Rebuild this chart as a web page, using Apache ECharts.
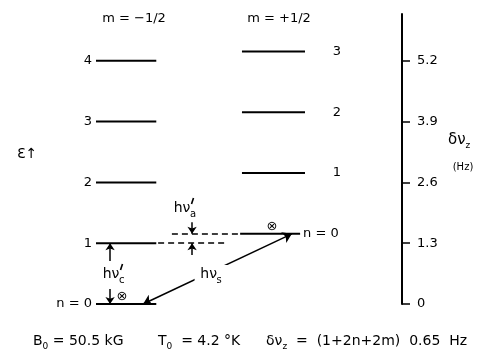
<!DOCTYPE html>
<html><head><meta charset="utf-8">
<script src="https://cdn.jsdelivr.net/npm/echarts@6/dist/echarts.min.js"></script>
<style>html,body{margin:0;padding:0;background:#fff}#c{width:481px;height:355px}</style>
</head><body><div id="c"></div>
<script>
// ---- data ----
const tickValues = [0, 1.3, 2.6, 3.9, 5.2];
const tickLabels = ['0', '1.3', '2.6', '3.9', '5.2'];
const levelsMinus = [0, 1.3, 2.6, 3.9, 5.2];      // m = -1/2, n = 0..4  (δν_z, Hz)
const levelsPlus = [1.5, 2.8, 4.1, 5.4];          // m = +1/2, n = 0..3  (raised by hν'_a)
const labelsMinus = ['n = 0', '1', '2', '3', '4'];
const labelsPlus = ['n = 0', '1', '2', '3'];
const columnHeaders = ['m = \u22121/2', 'm = +1/2'];
const captions = ['B', 'T', '\u03b4\u03bd'];

// ---- layout (abstract horizontal units) ----
const FONT = '"DejaVu Sans", "Liberation Sans", sans-serif';
const COL_L = [0, 1.97];
const COL_R = [4.77, 6.83];
const COL_R0 = [4.71, 6.67];

const chart = echarts.init(document.getElementById('c'), null, {renderer: 'canvas'});

function levelRenderer(side, labels) {
  return function (params, api) {
    const y = api.value(2);
    const p0 = api.coord([api.value(0), y]);
    const p1 = api.coord([api.value(1), y]);
    const i = params.dataIndex;
    let tx, align;
    if (side === 'L') { tx = p0[0] - 4; align = 'right'; }
    else if (i === 0) { tx = p1[0] + 3; align = 'left'; }
    else { tx = p1[0] + 32; align = 'center'; }
    return {
      type: 'group',
      children: [
        {type: 'line', shape: {x1: p0[0], y1: p0[1], x2: p1[0], y2: p1[1]},
         style: {stroke: '#000', lineWidth: 2}},
        {type: 'text', x: tx, y: p0[1],
         style: {text: labels[i], align: align, verticalAlign: 'middle',
                 fontSize: 13, fontFamily: FONT, fill: '#000'}}
      ]
    };
  };
}

const annotations = [
  {kind: 'otimes', at: [0.85, 0.15]},
  {kind: 'otimes', at: [5.75, 1.65]},
  {kind: 's', at: [3.68, 0.64]},
  {kind: 'c', at: [0.49, 0.64]},
  {kind: 'a', at: [2.81, 2.05]}
];

function annRenderer(params, api) {
  const a = annotations[params.dataIndex];
  const p = api.coord([api.value(0), api.value(1)]);
  if (a.kind === 'otimes') {
    return {type: 'text', x: p[0], y: p[1],
      style: {text: '\u2297', align: 'center', verticalAlign: 'middle', fontSize: 13, fontFamily: FONT, fill: '#000'}};
  }
  const children = [];
  if (a.kind === 's') {
    children.push({type: 'rect', shape: {x: p[0] - 14, y: p[1] - 9, width: 34, height: 20},
      style: {fill: '#fff'}});
  }
  children.push({type: 'text', x: p[0], y: p[1],
    style: {text: 'h\u03bd', align: 'center', verticalAlign: 'middle', fontSize: 14, fontFamily: FONT, fill: '#000'}});
  if (a.kind !== 's') {
    // prime mark drawn as a short slanted stroke
    children.push({type: 'line', shape: {x1: p[0] + 9.5, y1: p[1] - 4, x2: p[0] + 11.5, y2: p[1] - 10},
      style: {stroke: '#000', lineWidth: 1.6}});
  }
  children.push({type: 'text', x: p[0] + 8, y: p[1] + 6,
    style: {text: a.kind, align: 'left', verticalAlign: 'middle', fontSize: 10, fontFamily: FONT, fill: '#000'}});
  return {type: 'group', children: children};
}

const richSub = {
  m: {fontSize: 14, fontFamily: FONT, color: '#000', lineHeight: 20, verticalAlign: 'middle'},
  s: {fontSize: 9, fontFamily: FONT, color: '#000', lineHeight: 10, verticalAlign: 'bottom'}
};

function txt(x, y, text, extra) {
  return Object.assign({type: 'text', x: x, y: y,
    style: Object.assign({text: text, fontSize: 13, fontFamily: FONT, fill: '#000', align: 'center', verticalAlign: 'middle'}, extra || {})});
}

const option = {
  backgroundColor: '#fff',
  animation: false,
  grid: {left: 96, right: 79, top: 14, bottom: 51, containLabel: false, outerBoundsMode: 'none'},
  xAxis: {type: 'value', min: 0, max: 10, show: false},
  yAxis: {
    type: 'value', position: 'right', min: 0, max: 6.2,
    splitLine: {show: false},
    axisLine: {show: true, onZero: false, lineStyle: {color: '#000', width: 2}},
    axisTick: {show: true, length: 8, customValues: tickValues, lineStyle: {color: '#000', width: 1.5}},
    axisLabel: {customValues: tickValues, margin: 15, color: '#000', fontSize: 13, fontFamily: FONT,
      formatter: function (v) { const i = tickValues.findIndex(t => Math.abs(t - v) < 1e-6); return i >= 0 ? tickLabels[i] : ''; }}
  },
  series: [
    {type: 'custom', coordinateSystem: 'cartesian2d', silent: true, z: 3,
     renderItem: levelRenderer('L', labelsMinus),
     data: levelsMinus.map(v => [COL_L[0], COL_L[1], v])},
    {type: 'custom', coordinateSystem: 'cartesian2d', silent: true, z: 3,
     renderItem: levelRenderer('R', labelsPlus),
     data: levelsPlus.map((v, i) => i === 0 ? [COL_R0[0], COL_R0[1], v] : [COL_R[0], COL_R[1], v])},
    {type: 'lines', coordinateSystem: 'cartesian2d', silent: true, z: 2,
     symbol: 'none',
     lineStyle: {color: '#000', width: 1.5, type: [6, 4], opacity: 1},
     data: [
       {coords: [[2.03, levelsMinus[1]], [4.2, levelsMinus[1]]]},
       {coords: [[2.48, levelsPlus[0]], [4.64, levelsPlus[0]]]}
     ]},
    {type: 'lines', coordinateSystem: 'cartesian2d', silent: true, z: 2,
     symbol: ['arrow', 'arrow'], symbolSize: 9,
     lineStyle: {color: '#000', width: 1.5, opacity: 1},
     data: [{coords: [[1.54, levelsMinus[0]], [6.4, levelsPlus[0]]]}]},
    {type: 'lines', coordinateSystem: 'cartesian2d', silent: true, z: 2,
     symbol: ['none', 'arrow'], symbolSize: 7,
     lineStyle: {color: '#000', width: 1.5, opacity: 1},
     data: [
       {coords: [[3.14, 1.75], [3.14, levelsPlus[0]]]},
       {coords: [[3.14, 1.05], [3.14, levelsMinus[1]]]},
       {coords: [[0.46, 0.92], [0.46, levelsMinus[1]]]},
       {coords: [[0.46, 0.32], [0.46, levelsMinus[0]]]}
     ]},
    {type: 'custom', coordinateSystem: 'cartesian2d', silent: true, z: 5,
     renderItem: annRenderer,
     data: annotations.map(a => a.at)}
  ],
  graphic: [
    txt(134, 19, columnHeaders[0]),
    txt(279, 19, columnHeaders[1]),
    txt(17, 154, '\u0190\u2191', {align: 'left', fontSize: 14}),
    {type: 'text', x: 448, y: 140, style: {text: '{m|\u03b4\u03bd}{s|z}', align: 'left', verticalAlign: 'middle',
      rich: {m: {fontSize: 15, fontFamily: FONT, color: '#000', lineHeight: 20, verticalAlign: 'middle'},
             s: {fontSize: 9, fontFamily: FONT, color: '#000', lineHeight: 10, verticalAlign: 'bottom'}}}},
    txt(463, 167, '(Hz)', {fontSize: 10}),
    {type: 'text', x: 33, y: 341, style: {text: '{m|' + captions[0] + '}{s|0}{m| = 50.5 kG}', align: 'left', verticalAlign: 'middle', rich: richSub}},
    {type: 'text', x: 158, y: 341, style: {text: '{m|' + captions[1] + '}{s|0}{m|  = 4.2 \u00b0K}', align: 'left', verticalAlign: 'middle', rich: richSub}},
    {type: 'text', x: 266, y: 341, style: {text: '{m|' + captions[2] + '}{s|z}{m|  =  (1+2n+2m)  0.65  Hz}', align: 'left', verticalAlign: 'middle', rich: richSub}}
  ]
};
chart.setOption(option);
</script>
</body></html>
